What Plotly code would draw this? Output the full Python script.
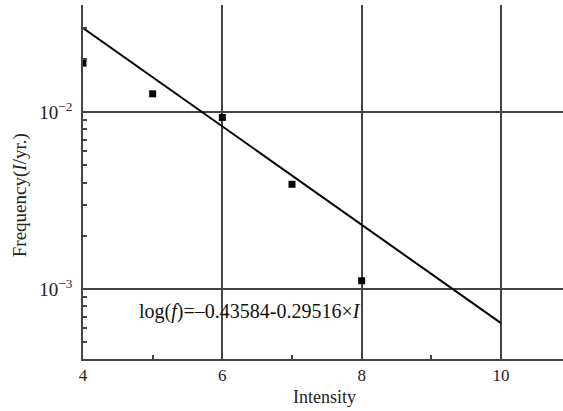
import plotly.graph_objects as go

# Observed data points
intensity = [4, 5, 6, 7, 8]
frequency = [0.0189, 0.01268, 0.00933, 0.00391, 0.001114]

# Fitted line endpoints (as drawn)
fit_x = [4, 10]
fit_y = [0.02987, 0.000642]

y_major = [1e-2, 1e-3]
y_major_text = ["10<sup>−2</sup>", "10<sup>−3</sup>"]
y_minor = [m * 10 ** e for e in (-4, -3, -2) for m in range(2, 10)]
x_major = [4, 6, 8, 10]
x_minor = [5, 7, 9]

FONT = "Liberation Serif, Times New Roman, serif"

fig = go.Figure()
fig.add_trace(go.Scatter(x=fit_x, y=fit_y, mode="lines",
                         line=dict(color="black", width=2), showlegend=False))
fig.add_trace(go.Scatter(x=intensity, y=frequency, mode="markers",
                         marker=dict(symbol="square", size=7, color="black"),
                         showlegend=False))

fig.update_layout(
    width=563, height=411,
    margin=dict(l=83, r=0, t=5, b=52),
    paper_bgcolor="white", plot_bgcolor="white",
    font=dict(family=FONT, size=17, color="#222"),
    xaxis=dict(range=[4, 10.89], tickvals=x_major, ticktext=[str(v) for v in x_major],
               showgrid=True, gridcolor="#444", gridwidth=1.5,
               showline=True, linecolor="#444", linewidth=1.5,
               ticks="inside", ticklen=0, tickcolor="#444",
               minor=dict(tickvals=x_minor, ticks="inside", ticklen=4, tickcolor="#444", tickwidth=1.5, showgrid=False),
               zeroline=False, tickfont=dict(family=FONT, size=17, color="#222")),
    yaxis=dict(type="log", range=[-3.395, -1.395], tickvals=y_major, ticktext=y_major_text,
               showgrid=True, gridcolor="#444", gridwidth=1.5,
               showline=True, linecolor="#444", linewidth=1.5,
               ticks="inside", ticklen=7, tickcolor="#444", tickwidth=1.5,
               ticklabelstandoff=5,
               minor=dict(tickvals=y_minor, ticks="inside", ticklen=4, tickcolor="#444", tickwidth=1.5, showgrid=False),
               zeroline=False, tickfont=dict(family=FONT, size=19, color="#222")),
)

fig.add_annotation(x=4.78, y=-3.124, xref="x", yref="y", xanchor="left", yanchor="middle",
                   text="log(<i>f</i>)=–0.43584-0.29516×<i>I</i>", showarrow=False,
                   font=dict(family=FONT, size=20, color="#111"))
fig.add_annotation(x=-0.131, y=0.463, xref="paper", yref="paper", textangle=-90,
                   xanchor="center", yanchor="middle",
                   text="Frequency(<i>I</i>/yr.)", showarrow=False,
                   font=dict(family=FONT, size=19, color="#222"))
fig.add_annotation(x=0.504, y=-0.106, xref="paper", yref="paper",
                   xanchor="center", yanchor="middle",
                   text="Intensity", showarrow=False,
                   font=dict(family=FONT, size=18, color="#222"))

fig.write_html("out.html")
